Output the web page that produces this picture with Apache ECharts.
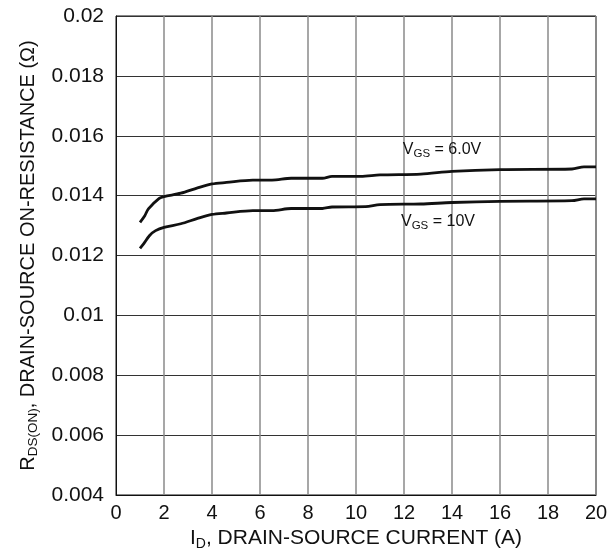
<!DOCTYPE html>
<html>
<head>
<meta charset="utf-8">
<script src="https://cdn.jsdelivr.net/npm/echarts@6/dist/echarts.min.js"></script>
<style>
  html, body { margin: 0; padding: 0; background: #fff; }
  #chart { width: 610px; height: 552px; }
</style>
</head>
<body>
<div id="chart"></div>
<script>
// Drain current (A) and on-resistance (Ω) for the two gate voltages
const currentVgs6 = [1.0, 1.2, 1.35, 1.8, 2.0, 2.7, 3.4, 4.0, 4.6, 5.7, 6.5, 7.3, 8.6, 9.0, 10.2, 11.0, 12.7, 14.0, 16.0, 19.0, 19.5, 20.0];
const rdsVgs6 = [0.01311, 0.01333, 0.01356, 0.01391, 0.01397, 0.01408, 0.01426, 0.01439, 0.01444, 0.01452, 0.01452, 0.01458, 0.01458, 0.01464, 0.01464, 0.01469, 0.01472, 0.01481, 0.01487, 0.01489, 0.01496, 0.01496];

const currentVgs10 = [1.0, 1.15, 1.4, 1.65, 2.0, 2.7, 3.4, 4.0, 4.6, 5.7, 6.5, 7.3, 8.6, 9.0, 10.4, 11.0, 12.7, 14.0, 16.0, 19.0, 19.5, 20.0];
const rdsVgs10 = [0.01224, 0.01239, 0.01267, 0.01283, 0.01294, 0.01306, 0.01324, 0.01337, 0.01342, 0.0135, 0.0135, 0.01357, 0.01357, 0.01362, 0.01363, 0.0137, 0.01372, 0.01377, 0.01381, 0.01383, 0.01389, 0.01389];

// Axis ranges
const xMin = 0, xMax = 20, xStep = 2;
const yMin = 0.004, yMax = 0.02, yStep = 0.002;

// Curve annotations: which point each label is anchored to
const labelVgs6 = { text: '6.0V', index: 17 };
const labelVgs10 = { text: '10V', index: 17 };

const FONT = '"Liberation Sans", Arial, sans-serif';

function pairs(xs, ys) {
  return xs.map((x, i) => [x, ys[i]]);
}

function vgsLabel(text) {
  return '{v|V}{s|GS}{v| = ' + text + '}';
}

const labelRich = {
  v: { fontSize: 16, fontFamily: FONT, color: '#111' },
  s: { fontSize: 11.5, fontFamily: FONT, color: '#111', padding: [9, 0, 0, 0] }
};

function nameRich(size, subSize) {
  return {
    n: { fontSize: size, fontFamily: FONT, color: '#111' },
    sub: { fontSize: subSize, fontFamily: FONT, color: '#111', padding: [Math.round(size * 0.52), 0, 0, 0] }
  };
}

const chart = echarts.init(document.getElementById('chart'), null, { renderer: 'canvas' });

chart.setOption({
  animation: false,
  backgroundColor: '#fff',
  grid: {
    left: 116, right: 14, top: 16, bottom: 57,
    outerBoundsMode: 'none', containLabel: false,
    show: true, borderColor: '#111', borderWidth: 1
  },
  xAxis: {
    type: 'value',
    min: xMin, max: xMax, interval: xStep,
    name: '{n|I}{sub|D}{n|, DRAIN-SOURCE CURRENT (A)}',
    nameLocation: 'middle',
    nameGap: 31,
    nameTextStyle: { rich: nameRich(21, 14) },
    axisLine: { show: true, lineStyle: { color: '#111', width: 1 } },
    axisTick: { show: false },
    axisLabel: { fontSize: 20, fontFamily: FONT, color: '#111', margin: 8 },
    splitLine: { show: true, lineStyle: { color: '#8a8a8a', width: 1.5 } }
  },
  yAxis: {
    type: 'value',
    min: yMin, max: yMax, interval: yStep,
    name: '{n|R}{sub|DS(ON)}{n|, DRAIN-SOURCE ON-RESISTANCE (Ω)}',
    nameLocation: 'middle',
    nameRotate: 90,
    nameGap: 64,
    nameTextStyle: { rich: nameRich(20, 13.5) },
    axisLine: { show: true, lineStyle: { color: '#111', width: 1 } },
    axisTick: { show: false },
    axisLabel: {
      fontSize: 21, fontFamily: FONT, color: '#111', margin: 12,
      formatter: v => String(+v.toFixed(3))
    },
    splitLine: { show: true, lineStyle: { color: '#333', width: 1 } }
  },
  series: [
    {
      name: 'VGS = 6.0V',
      type: 'line',
      data: pairs(currentVgs6, rdsVgs6),
      showSymbol: false,
      smooth: 0.3,
      lineStyle: { color: '#111', width: 2.8 },
      markPoint: {
        symbol: 'circle', symbolSize: 0,
        data: [{
          coord: [currentVgs6[labelVgs6.index], rdsVgs6[labelVgs6.index]],
          label: {
            show: true, position: 'inside', offset: [-10, -22],
            formatter: vgsLabel(labelVgs6.text), rich: labelRich
          }
        }]
      }
    },
    {
      name: 'VGS = 10V',
      type: 'line',
      data: pairs(currentVgs10, rdsVgs10),
      showSymbol: false,
      smooth: 0.3,
      lineStyle: { color: '#111', width: 2.8 },
      markPoint: {
        symbol: 'circle', symbolSize: 0,
        data: [{
          coord: [currentVgs10[labelVgs10.index], rdsVgs10[labelVgs10.index]],
          label: {
            show: true, position: 'inside', offset: [-14, 19],
            formatter: vgsLabel(labelVgs10.text), rich: labelRich
          }
        }]
      }
    }
  ]
});
</script>
</body>
</html>
